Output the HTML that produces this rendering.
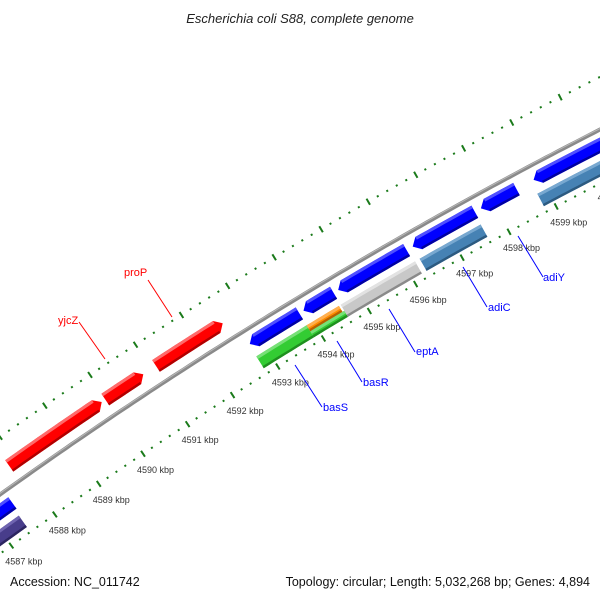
<!DOCTYPE html>
<html><head><meta charset="utf-8"><style>
html,body{margin:0;padding:0;background:#fff;}
svg{display:block;font-family:"Liberation Sans",sans-serif;}
</style></head><body>
<svg id="map" width="600" height="600" viewBox="0 0 600 600">
<text x="300" y="23" text-anchor="middle" font-size="13" font-style="italic" fill="#222">Escherichia coli S88, complete genome</text>
<text x="10" y="586" font-size="12.5" fill="#111">Accession: NC_011742</text>
<text x="590" y="586" text-anchor="end" font-size="12.5" fill="#111">Topology: circular; Length: 5,032,268 bp; Genes: 4,894</text>
<g id="layer"></g>
</svg>
<script>
// data
const geneStarts = [4587.83, 4589.98, 4591.10, 4586.0, 4592.78, 4593.95, 4594.70, 4596.30, 4597.75, 4598.86, 4586.0, 4592.76, 4593.86, 4593.86, 4594.60, 4596.30, 4598.80];
const geneEnds   = [4589.90, 4590.82, 4592.56, 4587.48, 4593.86, 4594.60, 4596.17, 4597.62, 4598.50, 4602.0, 4587.44, 4593.86, 4594.56, 4594.60, 4596.20, 4597.60, 4602.0];
const geneStrand = [1,1,1,-1,-1,-1,-1,-1,-1,-1,0,0,0,0,0,0,0];
const geneTrack  = ['fwd','fwd','fwd','rev1','rev1','rev1','rev1','rev1','rev1','rev1','rev2','rev2','rev2o','rev2i','rev2','rev2','rev2'];
const geneColor  = ['red','red','red','blue','blue','blue','blue','blue','blue','blue','purple','green','orange','green','gray','steel','steel'];
const tickStart = 4585, tickEnd = 4603;
const labelNames = ['proP','yjcZ','basS','basR','eptA','adiC','adiY'];
const labelColors = ['red','red','blue','blue','blue','blue','blue'];

const CX=2715, CY=4282, K0=4589, PHI0=-124.56, DPK=0.665;
const TR={fwd:[4671,4685],rev1:[4639,4653],rev2:[4618,4632],rev2o:[4625,4632],rev2i:[4618,4625]};
const PAL={red:['#ff0000','#ff6a6a','#b00000'],blue:['#0000ff','#5050ff','#0000a0'],green:['#33cc33','#77e077','#1f8f1f'],
 orange:['#ff8c00','#ffb050','#b86000'],gray:['#c8c8c8','#e2e2e2','#8a8a8a'],steel:['#4682b4','#78a8d0','#2c5a80'],purple:['#483d8b','#6f64b0','#2c2560']};
function P(k,r){const a=(PHI0+(k-K0)*DPK)*Math.PI/180;return [CX+r*Math.cos(a),CY+r*Math.sin(a)];}
function arc(k1,k2,r){const pts=[];const n=Math.max(2,Math.ceil(Math.abs(k2-k1)*8));for(let i=0;i<=n;i++){pts.push(P(k1+(k2-k1)*i/n,r));}return pts;}
const NS='http://www.w3.org/2000/svg';const layer=document.getElementById('layer');
function mk(tag,attrs){const e=document.createElementNS(NS,tag);for(const k in attrs)e.setAttribute(k,attrs[k]);layer.appendChild(e);return e;}
function ps(pts){return pts.map(p=>p[0].toFixed(1)+','+p[1].toFixed(1)).join(' ');}

// rulers
function ruler(rr,name){
 for(let k=tickStart*10;k<=tickEnd*10;k+=2){
  const kb=k/10;const major=(k%10===0);
  const a=P(kb,rr-(major?3.5:1)),b=P(kb,rr+(major?3.5:1));
  const l=mk('line',{x1:a[0],y1:a[1],x2:b[0],y2:b[1],stroke:'#1a7a1a','stroke-width':major?2:2});
  
  
 }
}
ruler(4707,'outer-ruler');
ruler(4612,'inner-ruler');
for(let k=tickStart;k<=tickEnd;k++){
 const p=P(k,4612);
 const t=mk('text',{x:p[0]-6,y:p[1]+19,'font-size':'9',fill:'#333'});
 t.textContent=k+' kbp';
 
 
}
// backbone
const bb=mk('polyline',{points:ps(arc(4584,4604,4660)),fill:'none',stroke:'#8a8a8a','stroke-width':4});


const bh=mk('polyline',{points:ps(arc(4584,4604,4661)),fill:'none',stroke:'#b8b8b8','stroke-width':1});



// genes
for(let i=0;i<geneStarts.length;i++){
 const s=geneStarts[i],e=geneEnds[i],d=geneStrand[i],tr=TR[geneTrack[i]],c=PAL[geneColor[i]];
 const h=0.13,rm=(tr[0]+tr[1])/2;let pts;
 if(d===1){pts=arc(s,e-h,tr[1]).concat([P(e,rm)],arc(e-h,s,tr[0]));}
 else if(d===-1){pts=[P(s,rm)].concat(arc(s+h,e,tr[1]),arc(e,s+h,tr[0]));}
 else{pts=arc(s,e,tr[1]).concat(arc(e,s,tr[0]));}
 const g=mk('polygon',{points:ps(pts),fill:c[0]});
 
 
 const s2=d===-1?s+h:s,e2=d===1?e-h:e;
 const hl=mk('polyline',{points:ps(arc(s2,e2,tr[1]-1.5)),fill:'none',stroke:c[1],'stroke-width':3});
 
 
 const dk=mk('polyline',{points:ps(arc(s2,e2,tr[0]+1.2)),fill:'none',stroke:c[2],'stroke-width':2.4});
 
 
}
// gene labels
const LBL=[[124,276,148,280,172,317],[58,324,79,322,105,359],[323,411,295,365,322,407],[363,386,337,341,362,382],[416,355,389,309,415,352],[488,311,463,267,487,307],[543,281,518,236,543,277]];
for(let i=0;i<labelNames.length;i++){
 const L=LBL[i],col=labelColors[i]==='red'?'#ff0000':'#0000ff';
 const ln=mk('line',{x1:L[2],y1:L[3],x2:L[4],y2:L[5],stroke:col,'stroke-width':1});
 
 
 const t=mk('text',{x:L[0],y:L[1],'font-size':'11',fill:col});
 t.textContent=labelNames[i];
 
 
}
</script>
</body></html>
